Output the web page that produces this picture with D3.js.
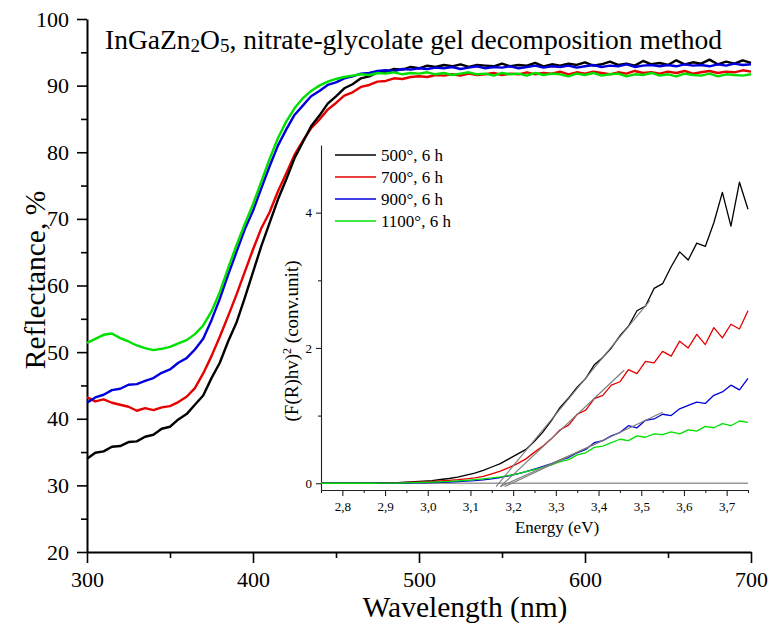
<!DOCTYPE html>
<html>
<head>
<meta charset="utf-8">
<script src="https://cdn.jsdelivr.net/npm/d3@7"></script>
<style>
body { margin: 0; background: #fff; }
text { font-family: "Liberation Serif", "Times New Roman", serif; fill: #000; }
</style>
</head>
<body>
<svg id="chart" width="769" height="625"></svg>
<script>
// main panel: reflectance vs wavelength, sampled every 5 nm
const wavelengths = d3.range(300, 701, 5);

const refl500 = [
	34.0, 34.9, 35.1, 35.8, 35.9, 36.5, 36.6, 37.3, 37.6, 38.5,
	38.8, 39.9, 40.7, 42.1, 43.5, 46.1, 48.4, 51.6, 54.4, 58.1,
	62.0, 65.9, 69.4, 72.9, 75.9, 79.1, 81.5, 83.9, 85.5, 87.3,
	88.4, 89.6, 90.2, 91.1, 91.4, 92.0, 92.1, 92.5, 92.4, 92.8,
	92.6, 93.0, 92.8, 93.1, 92.9, 93.2, 92.8, 93.1, 93.0, 92.9,
	93.3, 92.9, 93.1, 93.0, 93.4, 92.9, 93.2, 93.0, 93.3, 93.1,
	93.5, 93.0, 93.2, 93.6, 93.1, 93.3, 93.0, 93.7, 93.2, 93.4,
	93.1, 93.8, 93.2, 93.5, 93.3, 93.9, 93.2, 93.6, 93.3, 93.8,
	93.4
];
const refl700 = [
	43.2, 42.6, 42.9, 42.4, 42.1, 41.8, 41.2, 41.6, 41.3, 41.7,
	41.9, 42.5, 43.3, 44.6, 46.8, 49.4, 52.3, 55.4, 58.6, 62.0,
	65.4, 68.6, 71.0, 74.1, 76.8, 79.6, 81.7, 83.6, 84.9, 86.4,
	87.4, 88.5, 89.0, 89.8, 90.1, 90.6, 90.7, 91.1, 91.0, 91.3,
	91.4, 91.3, 91.6, 91.5, 91.7, 91.5, 91.8, 91.6, 91.7, 91.9,
	91.6, 91.8, 91.7, 92.0, 91.7, 91.9, 91.8, 92.1, 91.7, 92.0,
	91.8, 92.1, 91.9, 91.7, 92.0, 91.8, 92.2, 91.9, 92.0, 91.8,
	92.1, 91.9, 92.2, 91.8, 92.0, 92.2, 91.9, 92.1, 92.0, 92.3,
	92.1
];
const refl900 = [
	42.4, 43.2, 43.6, 44.3, 44.5, 45.1, 45.2, 45.7, 46.1, 46.9,
	47.4, 48.4, 49.1, 50.4, 52.0, 54.8, 58.0, 61.6, 65.0, 68.4,
	71.2, 74.6, 77.9, 81.0, 83.4, 85.6, 87.0, 88.4, 89.2, 90.1,
	90.5, 91.1, 91.4, 91.8, 91.9, 92.2, 92.3, 92.2, 92.5, 92.4,
	92.6, 92.5, 92.7, 92.6, 92.8, 92.5, 92.7, 92.9, 92.6, 92.8,
	92.7, 92.9, 92.6, 92.8, 93.0, 92.7, 92.9, 92.8, 93.0, 92.7,
	92.9, 93.1, 92.8, 93.0, 92.9, 93.2, 92.8, 93.0, 93.1, 92.9,
	93.1, 92.9, 93.2, 93.0, 93.1, 92.9, 93.2, 93.0, 93.3, 93.1,
	93.2
];
const refl1100 = [
	51.4, 52.0, 52.6, 52.8, 52.1, 51.6, 51.0, 50.6, 50.3, 50.5,
	50.8, 51.3, 51.8, 52.7, 54.0, 56.1, 59.0, 62.6, 66.0, 69.2,
	72.2, 75.6, 79.0, 82.1, 84.6, 86.6, 88.1, 89.2, 90.0, 90.6,
	91.0, 91.3, 91.5, 91.7, 91.6, 91.9, 91.8, 92.0, 91.7, 91.9,
	91.8, 92.0, 91.7, 91.9, 91.6, 91.8, 92.0, 91.7, 91.8, 91.5,
	91.9, 91.7, 91.8, 91.5, 91.9, 91.6, 91.8, 91.7, 91.4, 91.8,
	91.6, 91.9, 91.5, 91.7, 91.8, 91.4, 91.7, 91.6, 91.9, 91.5,
	91.7, 91.4, 91.8, 91.6, 91.5, 91.8, 91.4, 91.7, 91.6, 91.5,
	91.7
];

// inset: (F(R)hv)^2 vs energy, sampled every 0.02 eV
const energies = d3.range(0, 51).map(i => +(2.75 + i * 0.02).toFixed(2));

const kubelka500 = [
	0, 0, 0, 0, 0, 0, 0.002, 0.004, 0.006, 0.01,
	0.015, 0.022, 0.03, 0.04, 0.055, 0.07, 0.09, 0.12, 0.15, 0.19,
	0.24, 0.29, 0.36, 0.43, 0.5, 0.62, 0.76, 0.93, 1.12, 1.26,
	1.42, 1.55, 1.75, 1.86, 2.0, 2.18, 2.32, 2.55, 2.62, 2.88,
	2.95, 3.2, 3.42, 3.3, 3.55, 3.5, 3.85, 4.3, 3.8, 4.45,
	4.05
];
const kubelka700 = [
	0, 0, 0, 0, 0, 0, 0.002, 0.004, 0.006, 0.009,
	0.012, 0.016, 0.021, 0.027, 0.034, 0.042, 0.052, 0.065, 0.08, 0.1,
	0.14, 0.18, 0.23, 0.29, 0.36, 0.46, 0.55, 0.66, 0.79, 0.86,
	1.02, 1.08, 1.25, 1.3, 1.45, 1.5, 1.68, 1.62, 1.8, 1.78,
	1.95, 1.88, 2.1, 2.0, 2.2, 2.05, 2.3, 2.15, 2.35, 2.28,
	2.55
];
const kubelka900 = [
	0, 0, 0, 0, 0, 0, 0, 0, 0.001, 0.002,
	0.003, 0.005, 0.007, 0.01, 0.014, 0.018, 0.023, 0.03, 0.038, 0.05,
	0.065, 0.085, 0.11, 0.14, 0.17, 0.21, 0.25, 0.29, 0.34, 0.38,
	0.45, 0.5, 0.6, 0.63, 0.7, 0.75, 0.85, 0.82, 0.93, 0.95,
	1.02, 1.0, 1.1, 1.15, 1.2, 1.18, 1.3, 1.35, 1.45, 1.38,
	1.55
];
const kubelka1100 = [
	0, 0, 0, 0, 0, 0, 0, 0.001, 0.002, 0.003,
	0.005, 0.008, 0.012, 0.016, 0.021, 0.027, 0.034, 0.042, 0.052, 0.064,
	0.078, 0.095, 0.115, 0.14, 0.17, 0.2, 0.24, 0.27, 0.32, 0.35,
	0.42, 0.45, 0.53, 0.55, 0.6, 0.65, 0.63, 0.7, 0.68, 0.73,
	0.72, 0.76, 0.73, 0.79, 0.77, 0.84, 0.82, 0.88, 0.85, 0.92,
	0.9
];

// band-gap tangent lines, [energy, value] ends, same order as the series
const tangentStart = [[3.160, -0.05], [3.170, -0.05], [3.180, -0.05], [3.170, -0.05]];
const tangentEnd = [[3.52, 2.70], [3.46, 1.67], [3.55, 1.05], [3.41, 0.63]];

const seriesNames = ['500°, 6 h', '700°, 6 h', '900°, 6 h', '1100°, 6 h'];
const seriesColors = ['#000000', '#e60000', '#0000dc', '#00e000'];

const reflSeries = [refl500, refl700, refl900, refl1100];
const kubelkaSeries = [kubelka500, kubelka700, kubelka900, kubelka1100];

const svg = d3.select('#chart');

// ---- main panel ----
const x = d3.scaleLinear()
	.domain([300, 700])
	.range([87, 751]);

const y = d3.scaleLinear()
	.domain([20, 100])
	.range([552, 19]);

// minor ticks first so the major ones sit on top
svg.append('g')
	.attr('transform', 'translate(0,552)')
	.call(d3.axisBottom(x).tickValues([350, 450, 550, 650]).tickSize(6).tickFormat(''))
	.call(g => g.select('.domain').remove())
	.call(g => g.selectAll('line').attr('stroke-width', 1.6));

svg.append('g')
	.attr('transform', 'translate(87,0)')
	.call(d3.axisLeft(y).tickValues([25, 35, 45, 55, 65, 75, 85, 95]).tickSize(6).tickFormat(''))
	.call(g => g.select('.domain').remove())
	.call(g => g.selectAll('line').attr('stroke-width', 1.6));

const xAxis = svg.append('g')
	.attr('transform', 'translate(0,552)')
	.call(d3.axisBottom(x).tickValues([300, 400, 500, 600, 700]).tickSize(11).tickSizeOuter(0).tickPadding(8));

const yAxis = svg.append('g')
	.attr('transform', 'translate(87,0)')
	.call(d3.axisLeft(y).tickValues([20, 30, 40, 50, 60, 70, 80, 90, 100]).tickSize(10).tickSizeOuter(0).tickPadding(8));

[xAxis, yAxis].forEach(g => {
	g.select('.domain').attr('stroke-width', 2);
	g.selectAll('line').attr('stroke-width', 1.6);
	g.selectAll('text')
		.style('font-family', '"Liberation Serif", serif')
		.style('font-size', '22px')
		.attr('fill', '#000');
});

const line = d3.line()
	.x((d, i) => x(wavelengths[i]))
	.y(d => y(d));

// draw order: red, black, blue, green
[1, 0, 2, 3].forEach(k => {
	svg.append('path')
		.datum(reflSeries[k])
		.attr('d', line)
		.attr('fill', 'none')
		.attr('stroke', seriesColors[k])
		.attr('stroke-width', 2.4)
		.attr('stroke-linejoin', 'round');
});

// title with subscripts
const title = svg.append('text')
	.attr('x', 105)
	.attr('y', 49)
	.style('font-size', '27.5px');
title.append('tspan').text('InGaZn');
title.append('tspan').attr('dy', 3).style('font-size', '19px').text('2');
title.append('tspan').attr('dy', -3).text('O');
title.append('tspan').attr('dy', 3).style('font-size', '19px').text('5');
title.append('tspan').attr('dy', -3).text(', nitrate-glycolate gel decomposition method');

svg.append('text')
	.attr('transform', 'translate(45,280) rotate(-90)')
	.attr('text-anchor', 'middle')
	.style('font-size', '29.5px')
	.text('Reflectance, %');

svg.append('text')
	.attr('x', 465)
	.attr('y', 617)
	.attr('text-anchor', 'middle')
	.style('font-size', '29.5px')
	.text('Wavelength (nm)');

// ---- inset ----
const ix = d3.scaleLinear()
	.domain([2.75, 3.75])
	.range([321, 748]);

const iy = d3.scaleLinear()
	.domain([-0.1, 5])
	.range([490, 145]);

const inset = svg.append('g');

inset.append('g')
	.attr('transform', 'translate(0,490)')
	.call(d3.axisBottom(ix).tickValues([2.75, 2.85, 2.95, 3.05, 3.15, 3.25, 3.35, 3.45, 3.55, 3.65, 3.75]).tickSize(3).tickFormat(''))
	.call(g => g.select('.domain').remove());

inset.append('g')
	.attr('transform', 'translate(321,0)')
	.call(d3.axisLeft(iy).tickValues([1, 3]).tickSize(3).tickFormat(''))
	.call(g => g.select('.domain').remove());

const ixAxis = inset.append('g')
	.attr('transform', 'translate(0,490)')
	.call(d3.axisBottom(ix)
		.tickValues([2.8, 2.9, 3.0, 3.1, 3.2, 3.3, 3.4, 3.5, 3.6, 3.7])
		.tickSize(6).tickSizeOuter(0).tickPadding(6)
		.tickFormat(d => d3.format('.1f')(d).replace('.', ',')));

const iyAxis = inset.append('g')
	.attr('transform', 'translate(321,0)')
	.call(d3.axisLeft(iy).tickValues([0, 2, 4]).tickSize(5).tickSizeOuter(0).tickPadding(4)
		.tickFormat(d3.format('d')));

[ixAxis, iyAxis].forEach(g => {
	g.selectAll('text')
		.style('font-family', '"Liberation Serif", serif')
		.style('font-size', '13px')
		.attr('fill', '#000');
});
inset.selectAll('.domain, .tick line').attr('stroke', '#222').attr('stroke-width', 1.1);

// zero line
inset.append('line')
	.attr('x1', ix(2.75)).attr('x2', ix(3.75))
	.attr('y1', iy(0)).attr('y2', iy(0))
	.attr('stroke', '#9a9a9a')
	.attr('stroke-width', 1.4);

const iline = d3.line()
	.x((d, i) => ix(energies[i]))
	.y(d => iy(d));

[0, 1, 2, 3].forEach(k => {
	inset.append('path')
		.datum(kubelkaSeries[k])
		.attr('d', iline)
		.attr('fill', 'none')
		.attr('stroke', seriesColors[k])
		.attr('stroke-width', 1.3)
		.attr('stroke-linejoin', 'round');
});

tangentStart.forEach((s, k) => {
	inset.append('line')
		.attr('x1', ix(s[0])).attr('y1', iy(s[1]))
		.attr('x2', ix(tangentEnd[k][0])).attr('y2', iy(tangentEnd[k][1]))
		.attr('stroke', '#7a7a7a')
		.attr('stroke-width', 1.1);
});

inset.append('text')
	.attr('x', 557)
	.attr('y', 533)
	.attr('text-anchor', 'middle')
	.style('font-size', '17px')
	.text('Energy (eV)');

const ylab = inset.append('text')
	.attr('transform', 'translate(298,341) rotate(-90)')
	.attr('text-anchor', 'middle')
	.style('font-size', '19px');
ylab.append('tspan').text('(F(R)hv)');
ylab.append('tspan').attr('baseline-shift', 'super').style('font-size', '12px').text('2');
ylab.append('tspan').text(' (conv.unit)');

// legend
const legend = inset.append('g');
seriesNames.forEach((name, k) => {
	const ly = 155 + k * 22;
	legend.append('line')
		.attr('x1', 335).attr('x2', 376)
		.attr('y1', ly).attr('y2', ly)
		.attr('stroke', seriesColors[k])
		.attr('stroke-width', 1.3);
	legend.append('text')
		.attr('x', 381)
		.attr('y', ly + 6)
		.style('font-size', '17px')
		.text(name);
});
</script>
</body>
</html>
